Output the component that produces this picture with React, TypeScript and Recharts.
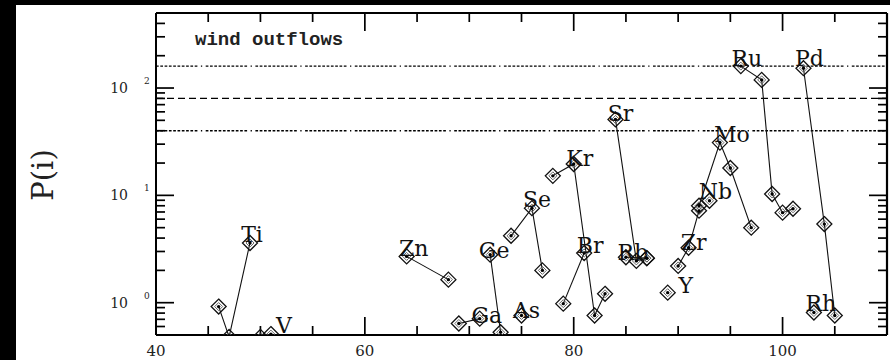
import { ScatterChart, Scatter, XAxis, YAxis, ReferenceLine } from 'recharts';

type Isotope = [number, number]; // [mass number A, production factor P(i)]

const titanium: Isotope[] = [[46, 0.92], [47, 0.48], [49, 3.6]];
const vanadium: Isotope[] = [[50, 0.48], [51, 0.51]];
const zinc: Isotope[] = [[64, 2.7], [68, 1.64]];
const gallium: Isotope[] = [[69, 0.64], [71, 0.71]];
const germanium: Isotope[] = [[72, 2.8], [73, 0.53]];
const arsenic: Isotope[] = [[75, 0.76]];
const selenium: Isotope[] = [[74, 4.2], [76, 7.6], [77, 2.0]];
const bromine: Isotope[] = [[79, 0.98], [81, 2.9]];
const krypton: Isotope[] = [[78, 15.2], [80, 19.6], [82, 0.76], [83, 1.21]];
const rubidium: Isotope[] = [[85, 2.65], [87, 2.6]];
const strontium: Isotope[] = [[84, 51], [86, 2.45], [87, 2.6]];
const yttrium: Isotope[] = [[89, 1.24]];
const zirconium: Isotope[] = [[90, 2.2], [91, 3.25], [92, 7.2]];
const niobium: Isotope[] = [[93, 8.9]];
const molybdenum: Isotope[] = [[92, 8.0], [94, 31], [95, 18], [97, 5.0]];
const ruthenium: Isotope[] = [[96, 160], [98, 119], [99, 10.3], [100, 6.9], [101, 7.5]];
const rhodium: Isotope[] = [[103, 0.81]];
const palladium: Isotope[] = [[102, 153], [104, 5.4], [105, 0.76]];

// horizontal guide levels
const dottedLevels = [40, 160];
const dashedLevel = 80;

const MASS_DOMAIN = [40, 110];
const PF_DOMAIN = [0.5, 500];
const MASS_TICKS = [40, 45, 50, 55, 60, 65, 70, 75, 80, 85, 90, 95, 100, 105, 110];
const MASS_LABELS = [40, 60, 80, 100];
const PF_TICKS = [
  0.5, 0.6, 0.7, 0.8, 0.9, 1, 2, 3, 4, 5, 6, 7, 8, 9, 10,
  20, 30, 40, 50, 60, 70, 80, 90, 100, 200, 300, 400, 500,
];
const PF_DECADES = [1, 10, 100];
const PF_EXPONENTS = ['0', '1', '2'];

const ELEMENTS = [
  { symbol: 'Ti', isotopes: titanium, labelAt: 49, dx: 2, dy: -1 },
  { symbol: 'V', isotopes: vanadium, labelAt: 51, dx: 13, dy: -1 },
  { symbol: 'Zn', isotopes: zinc, labelAt: 64, dx: 7, dy: 0 },
  { symbol: 'Ga', isotopes: gallium, labelAt: 71, dx: 7, dy: 4 },
  { symbol: 'Ge', isotopes: germanium, labelAt: 72, dx: 4, dy: 3 },
  { symbol: 'As', isotopes: arsenic, labelAt: 75, dx: 5, dy: 3 },
  { symbol: 'Se', isotopes: selenium, labelAt: 76, dx: 5, dy: -1 },
  { symbol: 'Kr', isotopes: krypton, labelAt: 80, dx: 6, dy: 2 },
  { symbol: 'Br', isotopes: bromine, labelAt: 81, dx: 6, dy: 0 },
  { symbol: 'Sr', isotopes: strontium, labelAt: 84, dx: 5, dy: 2 },
  { symbol: 'Rb', isotopes: rubidium, labelAt: 85, dx: 7, dy: 3 },
  { symbol: 'Y', isotopes: yttrium, labelAt: 89, dx: 18, dy: 0 },
  { symbol: 'Zr', isotopes: zirconium, labelAt: 91, dx: 5, dy: 2 },
  { symbol: 'Nb', isotopes: niobium, labelAt: 93, dx: 6, dy: -2 },
  { symbol: 'Mo', isotopes: molybdenum, labelAt: 94, dx: 12, dy: -1 },
  { symbol: 'Ru', isotopes: ruthenium, labelAt: 96, dx: 6, dy: 0 },
  { symbol: 'Pd', isotopes: palladium, labelAt: 102, dx: 6, dy: -2 },
  { symbol: 'Rh', isotopes: rhodium, labelAt: 103, dx: 7, dy: -2 },
];

const SERIF = '"DejaVu Serif", serif';
const INK = '#111';

// plot box is 731 x 322 px; tick marks are given in pixels and converted to axis units
const MASS_PER_PX = (MASS_DOMAIN[1] - MASS_DOMAIN[0]) / 731;
const DECADES_PER_PX = 3 / 322;
const TICK_MAJOR = 18;
const TICK_MINOR = 9;

// long dotted run followed by a gap-dot-gap, like the plotting package's dash-dot style
const DOTTED = [...Array(9).fill('2.7 1.6'), '2.7 3.5 1.3 3.5'].join(' ');

type Pt = { x: number; y: number };

// inward-pointing tick marks on all four sides of the frame
function frameTicks(): Pt[][] {
  const segs: Pt[][] = [];
  const [x0, x1] = MASS_DOMAIN;
  const [y0, y1] = PF_DOMAIN;
  PF_TICKS.filter((v) => v > y0 && v < y1).forEach((v) => {
    const len = (PF_DECADES.includes(v) ? TICK_MAJOR : TICK_MINOR) * MASS_PER_PX;
    segs.push([{ x: x0, y: v }, { x: x0 + len, y: v }]);
    segs.push([{ x: x1, y: v }, { x: x1 - len, y: v }]);
  });
  MASS_TICKS.filter((v) => v > x0 && v < x1).forEach((v) => {
    const len = (v % 20 === 0 ? TICK_MAJOR : TICK_MINOR) * DECADES_PER_PX;
    segs.push([{ x: v, y: y0 }, { x: v, y: y0 * Math.pow(10, len) }]);
    segs.push([{ x: v, y: y1 }, { x: v, y: y1 / Math.pow(10, len) }]);
  });
  return segs;
}

function diamond(cx: number, cy: number, r: number) {
  return `M${cx},${cy - r}L${cx + r},${cy}L${cx},${cy + r}L${cx - r},${cy}Z`;
}

function IsotopeMark(props: any) {
  const { cx, cy, payload, dx, dy } = props;
  if (cx == null || cy == null) return null;
  return (
    <g>
      <path d={diamond(cx, cy, 7.5)} fill="none" stroke={INK} strokeWidth={1.3} />
      <path d={diamond(cx, cy, 4)} fill="none" stroke="#555" strokeWidth={0.9} />
      <circle cx={cx} cy={cy} r={1.7} fill="#000" />
      {payload?.tag ? (
        <text x={cx + dx} y={cy + dy} textAnchor="middle" fontFamily={SERIF} fontSize={22} fill={INK}>
          {payload.tag}
        </text>
      ) : null}
    </g>
  );
}

function MassLabel(props: any) {
  const { x, y, payload } = props;
  if (!MASS_LABELS.includes(payload.value)) return <g />;
  return (
    <text x={x} y={y + 21} textAnchor="middle" fontFamily={SERIF} fontSize={15} fill="#222">
      {payload.value}
    </text>
  );
}

function PfLabel(props: any) {
  const { x, y, payload } = props;
  const idx = PF_DECADES.indexOf(payload.value);
  if (idx < 0) return <g />;
  return (
    <g fontFamily={SERIF} fill="#222">
      <text x={x - 28} y={y + 5} textAnchor="end" fontSize={14}>
        10
      </text>
      <text x={x - 12} y={y - 4} textAnchor="start" fontSize={9}>
        {PF_EXPONENTS[idx]}
      </text>
    </g>
  );
}

export default function App() {
  const series = ELEMENTS.map((el) => ({
    ...el,
    data: el.isotopes.map(([a, p]) => ({ a, p, tag: a === el.labelAt ? el.symbol : '' })),
  }));
  const ticks = frameTicks();
  const frame = { stroke: '#000', strokeWidth: 2 };

  return (
    <div
      style={{
        position: 'fixed',
        left: 0,
        top: 0,
        width: 890,
        height: 360,
        background: '#fff',
        overflow: 'hidden',
      }}
    >
      <ScatterChart width={890} height={360} margin={{ top: 13, right: 3, bottom: 0, left: 0 }}>
        <XAxis
          type="number"
          dataKey="a"
          domain={MASS_DOMAIN}
          allowDataOverflow
          ticks={MASS_TICKS}
          interval={0}
          height={25}
          tickSize={0}
          tickMargin={0}
          tickLine={false}
          axisLine={frame}
          tick={MassLabel}
        />
        <YAxis
          type="number"
          dataKey="p"
          scale="log"
          domain={PF_DOMAIN}
          allowDataOverflow
          ticks={PF_TICKS}
          interval={0}
          width={156}
          tickSize={0}
          tickMargin={0}
          tickLine={false}
          axisLine={frame}
          tick={PfLabel}
        />
        {/* top and right edges of the frame */}
        <ReferenceLine y={PF_DOMAIN[1]} stroke="#000" strokeWidth={2.2} ifOverflow="visible" />
        <ReferenceLine x={MASS_DOMAIN[1]} stroke="#000" strokeWidth={2.2} ifOverflow="visible" />
        {ticks.map((seg, i) => (
          <ReferenceLine key={`t${i}`} segment={seg} stroke="#000" strokeWidth={1.7} ifOverflow="visible" />
        ))}
        {dottedLevels.map((lvl) => (
          <ReferenceLine key={`g${lvl}`} y={lvl} stroke="#000" strokeWidth={1.3} strokeDasharray={DOTTED} />
        ))}
        <ReferenceLine y={dashedLevel} stroke="#000" strokeWidth={1.4} strokeDasharray="7 4" />
        {series.map((el) => (
          <Scatter
            key={el.symbol}
            name={el.symbol}
            data={el.data}
            line={{ stroke: INK, strokeWidth: 1.1 }}
            shape={(p: any) => <IsotopeMark {...p} dx={el.dx} dy={el.dy} />}
            isAnimationActive={false}
          />
        ))}
      </ScatterChart>
      <svg
        width={890}
        height={360}
        style={{ position: 'absolute', left: 0, top: 0, pointerEvents: 'none' }}
      >
        <text x={195} y={45} fontFamily='"Liberation Mono", monospace' fontWeight="bold" fontSize={19} fill="#222">
          wind outflows
        </text>
        <text
          transform="translate(53,175) rotate(-90)"
          textAnchor="middle"
          fontFamily={SERIF}
          fontSize={29}
          fill="#222"
        >
          P(i)
        </text>
      </svg>
      <div style={{ position: 'absolute', left: 0, top: 0, width: 890, height: 5, background: '#000' }} />
      <div style={{ position: 'absolute', left: 0, top: 0, width: 16, height: 360, background: '#000' }} />
    </div>
  );
}
